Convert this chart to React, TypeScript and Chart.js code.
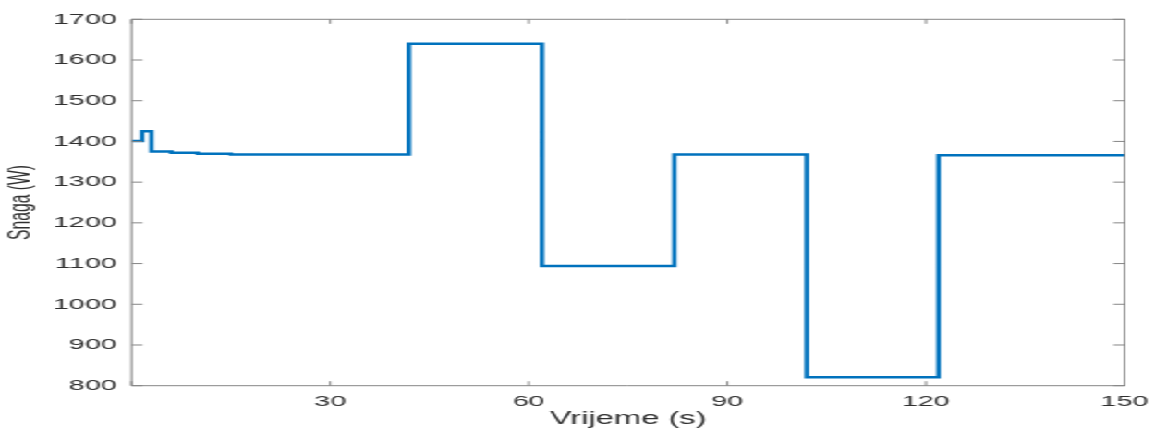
import React, { useEffect, useRef } from "react";
import { Chart, registerables } from "chart.js";

Chart.register(...registerables);

// Step-function change points (time in s) and power held from that time on (W)
const times = [0, 1.6, 3.0, 6, 10, 15, 41.9, 62, 82, 102, 121.9, 150];
const powers = [1401, 1425, 1375, 1372, 1370, 1368, 1640, 1094, 1368, 821, 1366, 1368];

const xTicks = [0, 30, 60, 90, 120, 150];
const yMin = 800;
const yMax = 1700;
const yStep = 100;

const xTitle = "Vrijeme (s)";
const yTitle = "Snaga (W)";

const STRETCH = 1.848;
const W = 626;
const H = 434;

const FONT = "'Liberation Sans', Arial, Helvetica, sans-serif";

const boxPlugin = {
  id: "matlabBox",
  afterDatasetsDraw(chart: any) {
    const { ctx, chartArea } = chart;
    const { left, right, top, bottom } = chartArea;
    const xs = chart.scales.x;
    const ys = chart.scales.y;
    ctx.save();
    ctx.strokeStyle = "#858585";
    ctx.lineWidth = 1;
    ctx.beginPath();
    ctx.rect(left, top, right - left, bottom - top);
    ctx.stroke();
    ctx.beginPath();
    xTicks.forEach((v) => {
      const px = xs.getPixelForValue(v);
      ctx.moveTo(px, bottom);
      ctx.lineTo(px, bottom - 4.5);
      ctx.moveTo(px, top);
      ctx.lineTo(px, top + 4.5);
    });
    for (let v = yMin; v <= yMax; v += yStep) {
      const py = ys.getPixelForValue(v);
      ctx.moveTo(left, py);
      ctx.lineTo(left + 6, py);
      ctx.moveTo(right, py);
      ctx.lineTo(right - 6, py);
    }
    ctx.stroke();
    ctx.restore();
  },
};

export default function App() {
  const canvasRef = useRef<HTMLCanvasElement | null>(null);

  useEffect(() => {
    document.body.style.margin = "0";
    const canvas = canvasRef.current;
    if (!canvas) return;
    const data = times.map((t, i) => ({ x: t, y: powers[i] }));
    const chart = new Chart(canvas, {
      type: "line",
      data: {
        datasets: [
          {
            data,
            borderColor: "#0072BD",
            borderWidth: 2.5,
            pointRadius: 0,
            stepped: "before",
            fill: false,
          },
        ],
      },
      options: {
        animation: false,
        responsive: false,
        devicePixelRatio: 1,
        layout: { padding: { left: 0, right: 17.5, top: 19.3, bottom: 0 } },
        plugins: { legend: { display: false }, tooltip: { enabled: false } },
        scales: {
          x: {
            type: "linear",
            min: 0,
            max: 150,
            afterBuildTicks: (scale: any) => {
              scale.ticks = xTicks.map((v) => ({ value: v }));
            },
            afterFit: (scale: any) => {
              scale.height = 48.3;
              scale.paddingLeft = 0;
              scale.paddingRight = 0;
            },
            grid: { display: false, drawTicks: false },
            border: { display: false },
            ticks: {
              padding: 7,
              color: "#303030",
              font: { family: FONT, size: 15.5 },
              maxRotation: 0,
              callback: (v: any) => (v === 0 ? "" : String(v)),
            },
            title: {
              display: true,
              text: xTitle,
              color: "#303030",
              font: { family: FONT, size: 17.7 },
              padding: { top: 0, bottom: 4 },
            },
          },
          y: {
            type: "linear",
            min: yMin,
            max: yMax,
            ticks: {
              stepSize: yStep,
              padding: 8,
              color: "#303030",
              font: { family: FONT, size: 15.5 },
              callback: (v: any) => String(v),
            },
            afterFit: (scale: any) => {
              scale.width = 71.2;
              scale.paddingTop = 0;
              scale.paddingBottom = 0;
            },
            grid: { display: false, drawTicks: false },
            border: { display: false },
            title: {
              display: true,
              text: yTitle,
              color: "#303030",
              font: { family: FONT, size: 15.7 },
              padding: { top: 2, bottom: 0 },
            },
          },
        },
      },
      plugins: [boxPlugin],
    });
    return () => chart.destroy();
  }, []);

  return (
    <div
      style={{
        width: W,
        height: H,
        transform: `scaleX(${STRETCH})`,
        transformOrigin: "0 0",
        background: "#ffffff",
      }}
    >
      <canvas ref={canvasRef} width={W} height={H} style={{ display: "block" }} />
    </div>
  );
}
